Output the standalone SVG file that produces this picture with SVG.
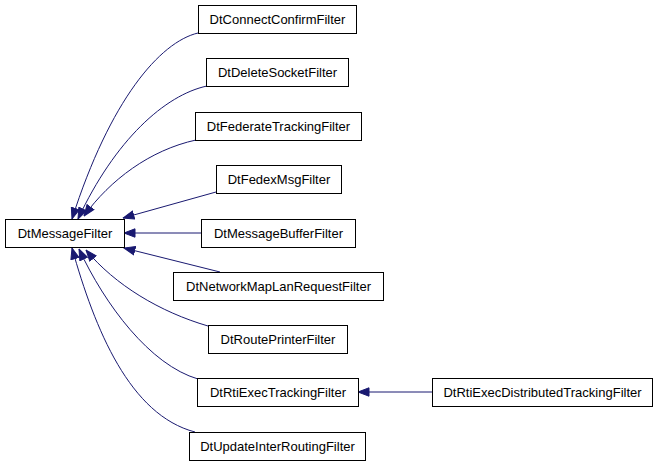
<svg xmlns="http://www.w3.org/2000/svg" width="664" height="467" viewBox="0 0 664 467">
<style>
.n rect{fill:#fff;stroke:#000;stroke-width:1}
.n text{font-family:"Liberation Sans",Arial,sans-serif;font-size:13px;fill:#000;text-anchor:middle}
.e path{fill:none;stroke:#191970;stroke-width:1}
</style>
<defs>
<marker id="a" markerUnits="userSpaceOnUse" markerWidth="12" markerHeight="10" viewBox="0 0 12 10" refX="11.5" refY="5" orient="auto">
<path d="M0.5,0.8 L11.5,5 L0.5,9.2 z" fill="#191970" stroke="#191970" stroke-width="1"/>
</marker>
</defs>
<rect width="664" height="467" fill="#fff"/>
<g id="edges" class="e">
<path d="M198,33 C160,42 110,100 72,219" marker-end="url(#a)"/>
<path d="M207,86 C165,95 115,140 78,219" marker-end="url(#a)"/>
<path d="M196,140 C150,150 110,180 84,216" marker-end="url(#a)"/>
<path d="M216,192 L123,218" marker-end="url(#a)"/>
<path d="M201,233 L124,233" marker-end="url(#a)"/>
<path d="M220,272 L124,248" marker-end="url(#a)"/>
<path d="M208,326 C160,312 115,285 86,250" marker-end="url(#a)"/>
<path d="M198,379 C150,365 105,305 79,249" marker-end="url(#a)"/>
<path d="M195,432 C130,415 95,330 72,248" marker-end="url(#a)"/>
<path d="M432,392 L358,392" marker-end="url(#a)"/>
</g>
<g id="DtMessageFilter" class="n"><rect x="5.5" y="219.5" width="119" height="28"/><text x="65" y="238">DtMessageFilter</text></g>
<g id="DtConnectConfirmFilter" class="n"><rect x="198.5" y="5.5" width="158" height="28"/><text x="277.5" y="24">DtConnectConfirmFilter</text></g>
<g id="DtDeleteSocketFilter" class="n"><rect x="206.5" y="58.5" width="142" height="28"/><text x="277.5" y="77">DtDeleteSocketFilter</text></g>
<g id="DtFederateTrackingFilter" class="n"><rect x="195.5" y="112.5" width="166" height="28"/><text x="278.5" y="131">DtFederateTrackingFilter</text></g>
<g id="DtFedexMsgFilter" class="n"><rect x="216.5" y="165.5" width="125" height="28"/><text x="279" y="184">DtFedexMsgFilter</text></g>
<g id="DtMessageBufferFilter" class="n"><rect x="201.5" y="219.5" width="154" height="28"/><text x="278.5" y="238">DtMessageBufferFilter</text></g>
<g id="DtNetworkMapLanRequestFilter" class="n"><rect x="173.5" y="272.5" width="210" height="28"/><text x="278.5" y="291">DtNetworkMapLanRequestFilter</text></g>
<g id="DtRoutePrinterFilter" class="n"><rect x="208.5" y="325.5" width="139" height="28"/><text x="278" y="344">DtRoutePrinterFilter</text></g>
<g id="DtRtiExecTrackingFilter" class="n"><rect x="197.5" y="378.5" width="161" height="28"/><text x="278" y="397">DtRtiExecTrackingFilter</text></g>
<g id="DtUpdateInterRoutingFilter" class="n"><rect x="189.5" y="432.5" width="176" height="28"/><text x="277.5" y="451">DtUpdateInterRoutingFilter</text></g>
<g id="DtRtiExecDistributedTrackingFilter" class="n"><rect x="432.5" y="378.5" width="220" height="28"/><text x="542.5" y="397">DtRtiExecDistributedTrackingFilter</text></g>
</svg>
